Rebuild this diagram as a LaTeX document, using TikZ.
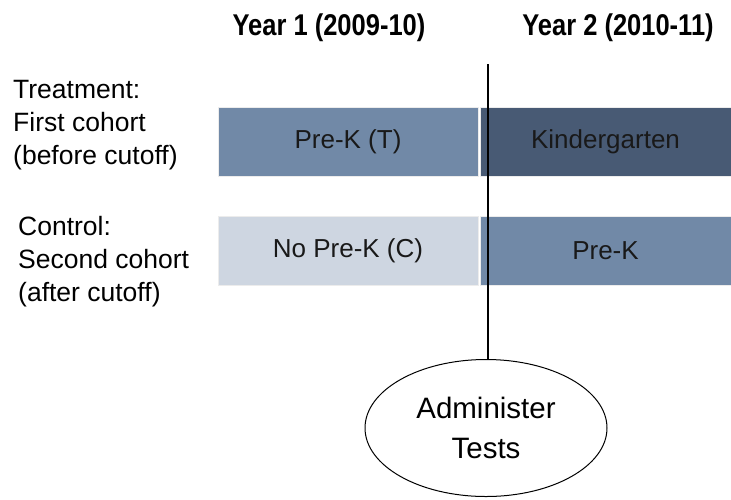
\documentclass[tikz,border=0pt]{standalone}
\usepackage{fontspec}
\setmainfont{Liberation Sans}
\newfontfamily\headfont[FakeStretch=0.85]{Liberation Sans}
\usetikzlibrary{shapes.geometric}
\definecolor{preKblue}{RGB}{113,137,167}
\definecolor{kinderblue}{RGB}{72,90,116}
\definecolor{nopreKgrey}{RGB}{206,214,225}

\begin{document}
\begin{tikzpicture}[x=1pt,y=-1pt,
    bar/.style={rectangle, draw=white!85!gray, line width=0.8pt,
      minimum height=69pt, inner sep=0pt, text=black!90,
      font=\fontsize{26}{30}\selectfont},
    yearhead/.style={font=\headfont\bfseries\fontsize{30}{34}\selectfont},
    cohort/.style={anchor=west, align=left, inner sep=0pt,
      font=\fontsize{26.5}{33}\selectfont}]
  \useasboundingbox (0,0) rectangle (731,499);
  % years
  \node[yearhead] (yearA) at (329,28) {Year 1 (2009-10)};
  \node[yearhead] (yearB) at (618,28) {Year 2 (2010-11)};
  % cohorts
  \node[cohort] (treat) at (13,125) {Treatment:\\First cohort\\(before cutoff)};
  \node[cohort] (ctrl) at (18,262) {Control:\\Second cohort\\(after cutoff)};
  % bars
  \node[bar, fill=preKblue, minimum width=260pt] (preKT) at (348,141.5) {Pre-K (T)};
  \node[bar, fill=kinderblue, minimum width=251pt] (kinder) at (605.5,141.5) {Kindergarten};
  \node[bar, fill=nopreKgrey, minimum width=260pt] (nopreK) at (348,251) {No Pre-K (C)};
  \node[bar, fill=preKblue, minimum width=251pt] (preK) at (605.5,251) {Pre-K};
  % testing
  \node[ellipse, draw, line width=1pt, minimum width=242pt, minimum height=137pt,
    align=center, font=\fontsize{29.5}{40}\selectfont] (tests) at (486,428)
    {Administer\\Tests};
  \coordinate (cut) at (488,64);
  \draw[line width=2pt] (cut) -- (cut |- tests.north);
\end{tikzpicture}
\end{document}
